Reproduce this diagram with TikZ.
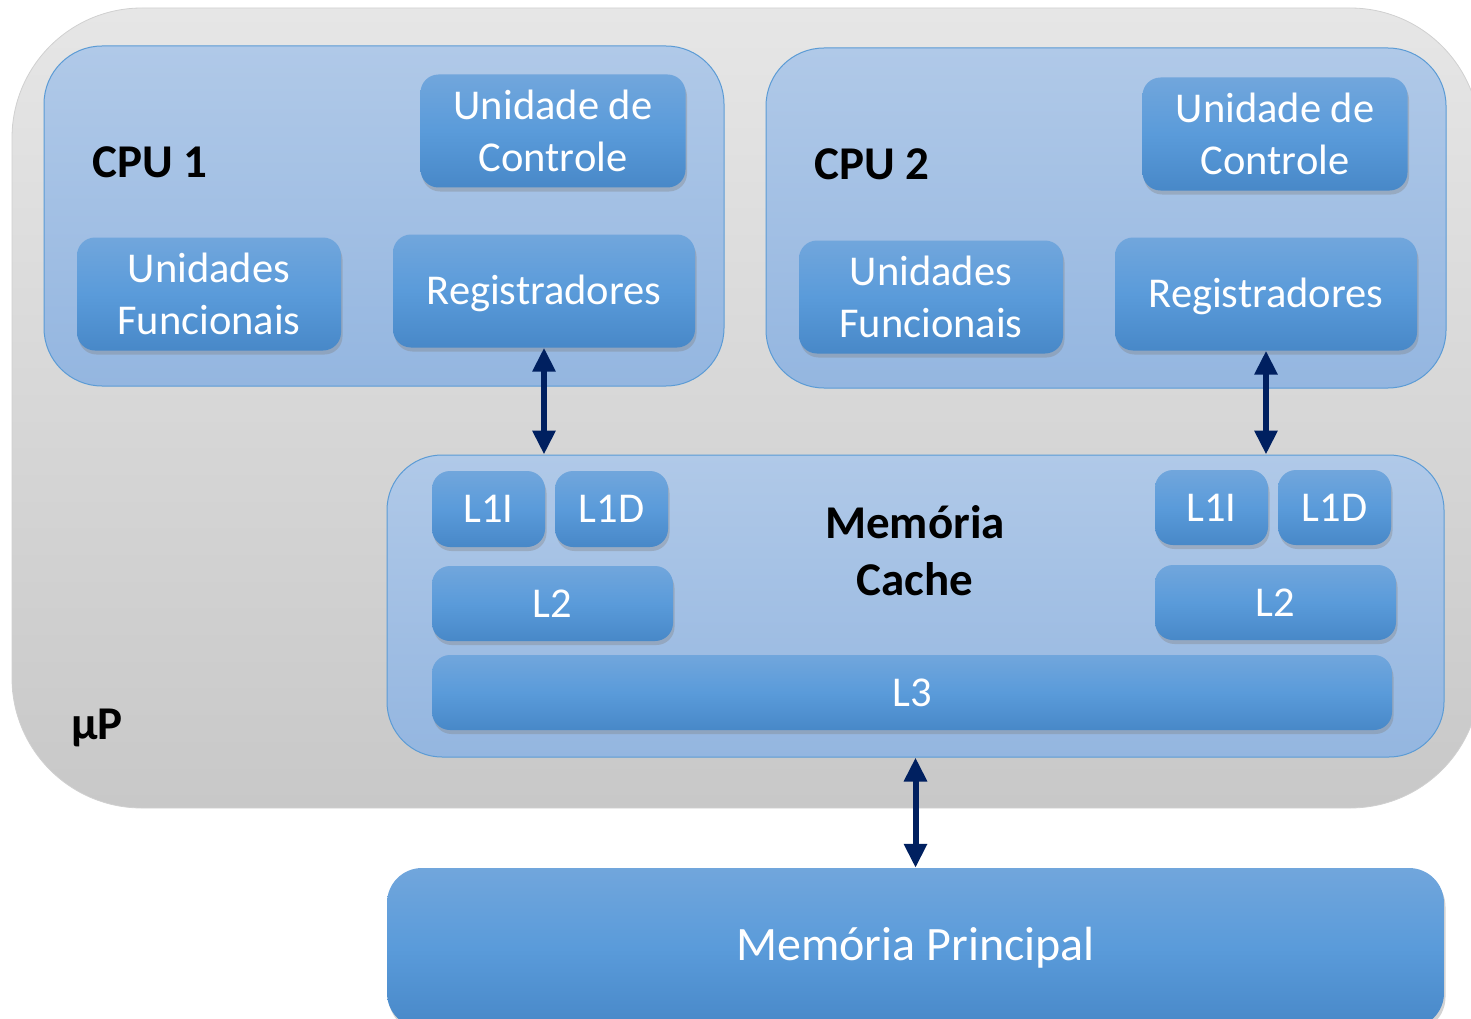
\documentclass[tikz,border=0pt]{standalone}
\usepackage{fontspec}
\setmainfont{Carlito}
\usetikzlibrary{arrows.meta, shadows, calc}

\definecolor{chiptop}{HTML}{E6E6E6}
\definecolor{chipbot}{HTML}{C8C8C8}
\definecolor{chipedge}{HTML}{D0D0D0}
\definecolor{cputop}{HTML}{B0C9E8}
\definecolor{cpubot}{HTML}{94B6E0}
\definecolor{cpuedge}{HTML}{5B9BD5}
\definecolor{unittop}{HTML}{71A6DC}
\definecolor{unitmid}{HTML}{5A9BDA}
\definecolor{unitbot}{HTML}{4888C8}
\definecolor{arrowblue}{HTML}{002060}

\begin{document}
\begin{tikzpicture}[x=1pt, y=-1pt,
			every node/.style={font=\fontsize{42.5}{52}\selectfont, inner sep=0pt},
			chip/.style={draw=chipedge, line width=0.8pt, top color=chiptop, bottom color=chipbot, rounded corners=130pt},
			cpu/.style={draw=cpuedge, line width=1pt, top color=cputop, bottom color=cpubot, rounded corners=58pt},
			unit/.style={top color=unittop, bottom color=unitbot, middle color=unitmid, rounded corners=18pt, text=white, align=center,
				drop shadow={shadow xshift=1.5pt, shadow yshift=-4pt, opacity=0.35}},
			regbox/.style={unit, text height=30pt, text depth=3pt},
			title/.style={font=\bfseries\fontsize{47}{57}\selectfont, align=center},
			arrow/.style={{Triangle[width=22pt,length=24pt]}-{Triangle[width=22pt,length=24pt]}, line width=6pt, draw=arrowblue},
			]
			
			\clip (0,0) rectangle (1471,1019);
			
			% microprocessor
			\node[chip, minimum width=1468pt, minimum height=800pt] (up) at (746,408) {};
			\node[title] (uplabel) at (97,728) {µP};
			
			% CPU 1
			\node[cpu, minimum width=680pt, minimum height=340pt] (cpu1) at (384,216) {};
			\node[title] (cpu1label) at (150,162) {CPU 1};
			\node[unit, minimum width=265pt, minimum height=113pt] (uc1) at (553,131) {Unidade de\\Controle};
			\node[unit, minimum width=264pt, minimum height=113pt] (uf1) at (209,294) {Unidades\\Funcionais};
			\node[regbox, minimum width=302pt, minimum height=113pt] (regs1) at (544,291) {Registradores};
			
			% CPU 2
			\node[cpu, minimum width=680pt, minimum height=340pt] (cpu2) at (1106,218) {};
			\node[title] (cpu2label) at (872,164) {CPU 2};
			\node[unit, minimum width=265pt, minimum height=113pt] (uc2) at (1275,134) {Unidade de\\Controle};
			\node[unit, minimum width=264pt, minimum height=113pt] (uf2) at (931,297) {Unidades\\Funcionais};
			\node[regbox, minimum width=302pt, minimum height=113pt] (regs2) at (1266,294) {Registradores};
			
			% cache
			\node[cpu, rounded corners=55pt, minimum width=1057pt, minimum height=302pt] (cache) at (915.5,606) {};
			\node[title] (cachelabel) at (915,551) {Memória\\Cache};
			\node[unit, minimum width=113pt, minimum height=76pt] (l1i1) at (488.5,509) {L1I};
			\node[unit, minimum width=113pt, minimum height=76pt] (l1d1) at (611.5,509) {L1D};
			\node[unit, minimum width=241pt, minimum height=75pt] (l21) at (552.5,603.5) {L2};
			\node[unit, minimum width=113pt, minimum height=75pt] (l1i2) at (1211.5,507.5) {L1I};
			\node[unit, minimum width=113pt, minimum height=75pt] (l1d2) at (1334.5,507.5) {L1D};
			\node[unit, minimum width=241pt, minimum height=75pt] (l22) at (1275.5,602.5) {L2};
			\node[unit, minimum width=960pt, minimum height=75pt] (l3) at (912,692.5) {L3};
			
			% main memory
			\node[unit, rounded corners=35pt, minimum width=1057pt, minimum height=160pt, font=\fontsize{48}{56}\selectfont] (mainmem) at (915.5,948) {Memória Principal};
			
			\draw[arrow] (regs1.south) -- (regs1.south |- cache.north);
			\draw[arrow] (regs2.south) -- (regs2.south |- cache.north);
			\draw[arrow] (cache.south) -- (mainmem.north);
			
		\end{tikzpicture}
\end{document}
